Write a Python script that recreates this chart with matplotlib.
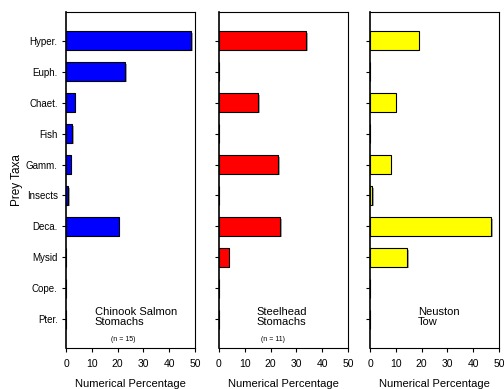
import matplotlib
matplotlib.use('Agg')
import matplotlib.pyplot as plt
import matplotlib.patheffects as pe
import numpy as np

plt.rcParams['font.family'] = ['Liberation Sans', 'DejaVu Sans']

taxa = ['Hyper.', 'Euph.', 'Chaet.', 'Fish', 'Gamm.', 'Insects', 'Deca.', 'Mysid', 'Cope.', 'Pter.']
chinook = [48.5, 23.0, 3.3, 2.3, 1.8, 0.9, 20.4, 0, 0, 0]
steelhead = [33.9, 0, 15.3, 0, 23.0, 0, 23.8, 3.8, 0, 0]
neuston = [18.9, 0, 10.0, 0, 8.0, 0.9, 46.9, 14.5, 0, 0]

# values, colour, caption, caption x, sample size, n x
panels = [
    (chinook, '#0000ff', 'Chinook Salmon\nStomachs', 11.2, '(n = 15)', 22.3),
    (steelhead, '#ff0000', 'Steelhead\nStomachs', 14.5, '(n = 11)', 20.9),
    (neuston, '#ffff00', 'Neuston\nTow', 18.7, None, 0),
]

fig = plt.figure(figsize=(5.04, 3.89), dpi=100)
W, H = 504, 389
lefts = [66, 219, 370]
pw = 129
top, bottom = 12, 348

y = np.arange(len(taxa))
shadow = [pe.SimplePatchShadow(offset=(1.2, -1.2), shadow_rgbFace='0.65', alpha=1), pe.Normal()]

for i, (vals, col, label, lx, nlab, nx) in enumerate(panels):
    ax = fig.add_axes([lefts[i] / W, 1 - bottom / H, pw / W, (bottom - top) / H])
    bars = ax.barh(y, vals, height=0.6, color=col, edgecolor='black', linewidth=0.8)
    for b in bars:
        if b.get_width() > 0:
            b.set_path_effects(shadow)
    ax.set_xlim(0, 50)
    ax.set_ylim(9.92, -0.92)
    ax.set_xticks([0, 10, 20, 30, 40, 50])
    ax.set_yticks(y)
    if i == 0:
        ax.set_yticklabels(taxa)
        ax.set_ylabel('Prey Taxa', fontsize=8.5, labelpad=2)
    else:
        ax.set_yticklabels([])
    ax.tick_params(direction='out', length=3, width=0.8, labelsize=7, pad=3)
    ax.tick_params(axis='x', labelsize=7.5, pad=5)
    ax.set_xlabel('Numerical Percentage', fontsize=8, labelpad=7)
    for s in ax.spines.values():
        s.set_linewidth(0.8)
    ax.spines['left'].set_linewidth(1.2)
    ax.text(lx, 8.6, label, fontsize=8, ha='left', va='top', linespacing=1.05)
    if nlab:
        ax.text(nx, 9.66, nlab, fontsize=5, ha='center', va='center')

fig.savefig('out.png', dpi=100)
